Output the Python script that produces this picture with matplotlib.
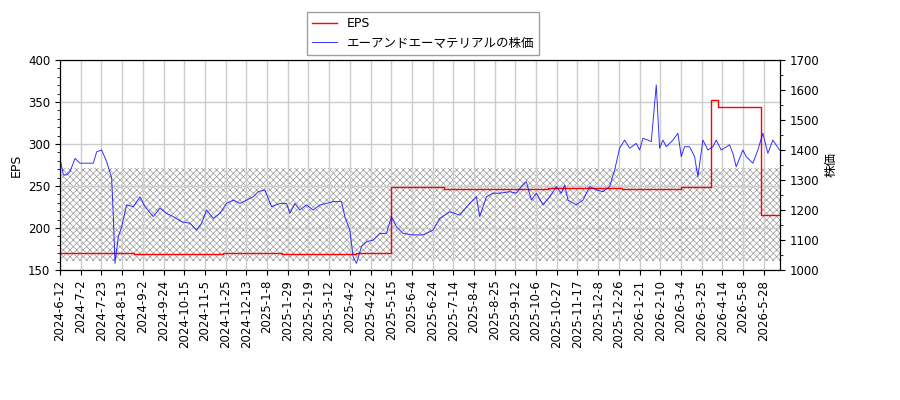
import matplotlib
matplotlib.use("Agg")
import matplotlib.pyplot as plt
import numpy as np

plt.rcParams['font.family'] = ['DejaVu Sans', 'Noto Sans CJK JP']
plt.rcParams['hatch.linewidth'] = 0.5

tick_labels = ["2024-6-12","2024-7-2","2024-7-23","2024-8-13","2024-9-2","2024-9-24","2024-10-15",
"2024-11-5","2024-11-25","2024-12-13","2025-1-8","2025-1-29","2025-2-19","2025-3-12","2025-4-2",
"2025-4-22","2025-5-15","2025-6-4","2025-6-24","2025-7-14","2025-8-4","2025-8-25","2025-9-12",
"2025-10-6","2025-10-27","2025-11-17","2025-12-8","2025-12-26","2026-1-21","2026-2-10","2026-3-4",
"2026-3-25","2026-4-14","2026-5-8","2026-5-28"]

# price samples: horizontal position in reference (zoom px), price
price_zx = [180,190,200,210,225,240,260,280,290,305,320,335,340,345,355,365,380,400,420,435,460,480,500,520,545,570,590,605,620,640,660,680,700,720,740,760,775,795,815,840,860,870,885,900,920,940,960,980,1000,1025,1035,1050,1060,1070,1085,1100,1120,1140,1160,1175,1190,1210,1240,1270,1300,1320,1350,
1380,1410,1430,1440,1460,1480,1500,1530,1550,1565,1580,1595,1610,1630,1650,1670,1685,1695,1705,1730,1750,1770,1790,1810,1830,1845,1860,1875,1890,1910,1920,1930,1945,1955,1965,1970,1980,1990,2000,2020,2035,2045,2055,2070,2085,2095,2110,2125,2140,2150,2165,2190,2200,2210,2230,2240,2260,2275,2290,2305,2320,2340]
price_val = [1372,1317,1317,1328,1372,1356,1356,1356,1394,1400,1361,1306,1178,1022,1111,1144,1217,1211,1244,1211,1178,1206,1189,1178,1161,1156,1133,1156,1200,1172,1189,1222,1233,1222,1233,1244,1261,1267,1211,1222,1222,1189,1222,1200,1217,1200,1217,1222,1228,1228,1178,1133,1044,1022,1078,1094,1100,1122,1122,1178,1144,1122,1117,1117,1133,1172,1194,
1183,1222,1244,1178,1244,1256,1256,1261,1256,1278,1294,1233,1256,1217,1244,1278,1256,1283,1233,1217,1233,1278,1267,1261,1278,1333,1406,1433,1406,1422,1400,1439,1433,1428,1556,1617,1406,1433,1411,1433,1456,1378,1411,1411,1378,1311,1433,1400,1411,1433,1400,1417,1389,1344,1400,1378,1356,1400,1456,1389,1433,1400]
price_idx = [(z - 180) * 0.2253 for z in price_zx]

eps_idx = [0, 50, 110, 150, 200, 224, 260, 290, 330, 380, 420, 440, 445, 474, 487]
eps_val = [170, 169, 170, 169, 170, 249, 247, 246, 248, 247, 249, 352, 344, 216, 216]

fig = plt.figure(figsize=(9, 4), dpi=100)
ax = fig.add_axes([0.0667, 0.325, 0.8, 0.525])
ax2 = ax.twinx()

ax.axhspan(161, 272, facecolor='none', edgecolor='#999999', hatch='xxxxx', linewidth=0, zorder=0)
l1, = ax.step(eps_idx, eps_val, where='post', color='red', lw=1.0, label='EPS', zorder=3)
l2, = ax2.plot(price_idx, price_val, color='blue', lw=0.7, alpha=0.8, label='エーアンドエーマテリアルの株価')

ax.set_xlim(0, 487)
ax.set_ylim(150, 400)
ax2.set_ylim(1000, 1700)
ax.set_xticks(np.arange(len(tick_labels)) * 14)
ax.set_xticklabels(tick_labels, rotation=90, fontsize=7.5)
ax.set_yticks(np.arange(150, 401, 50))
ax.set_yticks(np.arange(150, 401, 10), minor=True)
ax2.set_yticks(np.arange(1000, 1701, 100))
ax2.set_yticks(np.arange(1000, 1701, 50), minor=True)
ax.tick_params(labelsize=8.5)
ax2.tick_params(labelsize=8.5)
ax.grid(True, color='#cccccc', lw=1)
ax.set_ylabel('EPS', fontsize=9)
ax2.set_ylabel('株価', fontsize=9, family=['Noto Sans CJK JP'])
fig.legend(handles=[l1, l2], loc='upper center', bbox_to_anchor=(0.47, 0.985),
           fancybox=False, edgecolor='#888888', prop={'family': ['DejaVu Sans', 'Noto Sans CJK JP'], 'size': 9})
fig.savefig('out.png', dpi=100)
